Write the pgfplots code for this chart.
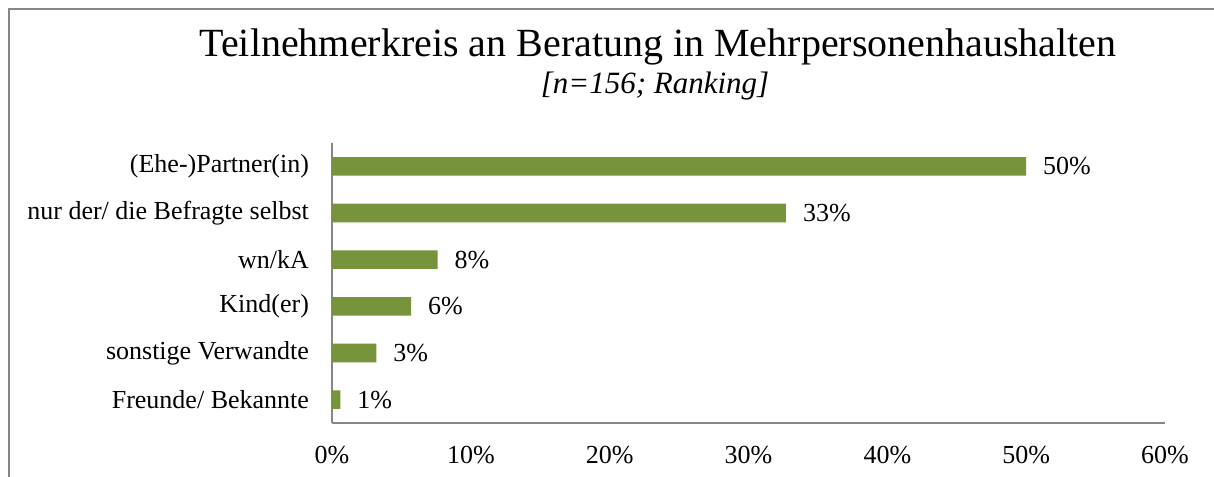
\documentclass[border=0pt]{standalone}
\usepackage{fontspec}
\setmainfont{Liberation Serif}
\usepackage{pgfplots}
\pgfplotsset{compat=1.18}
\definecolor{barcol}{RGB}{119,147,60}
\definecolor{axcol}{RGB}{134,134,134}
\begin{document}
\begin{tikzpicture}
\begin{scope}
\clip (0,0) rectangle (607pt,-238pt);
\draw[axcol, line width=1pt] (4.5pt,-260pt) -- (4.5pt,-4.5pt) -- (620pt,-4.5pt);
\end{scope}
\node[anchor=base, font=\fontsize{20pt}{24pt}\selectfont] at (329pt,-28.5pt) {Teilnehmerkreis an Beratung in Mehrpersonenhaushalten};
\node[anchor=base, font=\fontsize{15.5pt}{18pt}\selectfont\itshape] at (327.5pt,-47pt) {[n=156; Ranking]};
\begin{axis}[
  at={(166pt,-211.5pt)}, anchor=south west,
  width=416.5pt, height=140pt, scale only axis,
  xbar, bar width=9.3pt,
  xmin=0, xmax=60, ymin=-0.5, ymax=5.5,
  axis x line*=bottom, axis y line*=left,
  axis line style={axcol, line width=1pt},
  xtick={0,10,20,30,40,50,60},
  xticklabels={0\%,10\%,20\%,30\%,40\%,50\%,60\%},
  ytick={0,1,2,3,4,5},
  yticklabels={Freunde/ Bekannte, sonstige Verwandte, Kind(er), wn/kA, nur der/ die Befragte selbst, (Ehe-)Partner(in)},
  major tick length=0pt,
  /pgf/number format/assume math mode=true,
  xticklabel style={anchor=base, yshift=-20pt, font=\fontsize{13pt}{15pt}\selectfont},
  yticklabel style={anchor=east, xshift=-8pt, font=\fontsize{13pt}{15pt}\selectfont},
  nodes near coords={\pgfmathprintnumber[fixed,precision=0,assume math mode=true]{\pgfplotspointmeta}\%},
  point meta=explicit,
  nodes near coords style={anchor=west, xshift=5pt, font=\fontsize{13pt}{15pt}\selectfont, black},
  clip=false,
]
\addplot[fill=barcol, draw=none] coordinates {
  (0.6,0) [1]
  (3.2,1) [3]
  (5.7,2) [6]
  (7.6,3) [8]
  (32.7,4) [33]
  (50.0,5) [50]
};
\end{axis}
\pgfresetboundingbox
\useasboundingbox (0,0) rectangle (607pt,-238pt);
\end{tikzpicture}
\end{document}
